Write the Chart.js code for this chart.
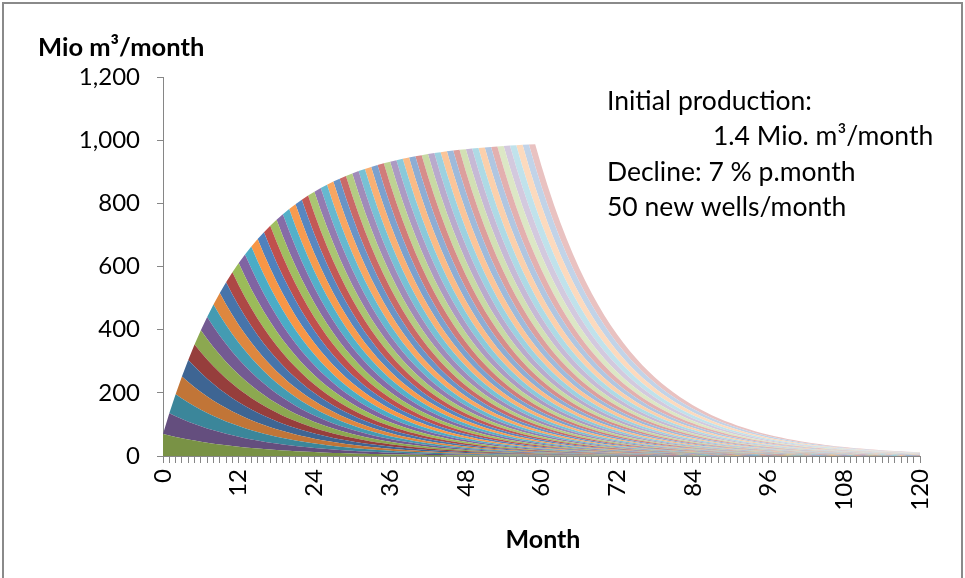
<!DOCTYPE html>
<html>
<head>
<meta charset="utf-8">
<script src="https://cdn.jsdelivr.net/npm/chart.js@4/dist/chart.umd.min.js"></script>
<style>
  html, body { margin: 0; padding: 0; background: #fff; }
  #wrap { width: 965px; height: 578px; position: relative; }
</style>
</head>
<body>
<div id="wrap"><canvas id="myChart" width="965" height="578"></canvas></div>
<script>
// production of one monthly cohort (50 wells x 1.4 Mio m3), by age in months
let cohortProfile = [
  70, 65.1, 60.54, 56.31, 52.36, 48.70, 45.29, 42.12, 39.17, 36.43,
  33.88, 31.51, 29.30, 27.25, 25.34, 23.57, 21.92, 20.39, 18.96, 17.63,
  16.40, 15.25, 14.18, 13.19, 12.27, 11.41, 10.61, 9.87, 9.18, 8.53,
  7.94, 7.38, 6.86, 6.38, 5.94, 5.52, 5.13, 4.78, 4.44, 4.13,
  3.84, 3.57, 3.32, 3.09, 2.87, 2.67, 2.49, 2.31, 2.15, 2.00,
  1.86, 1.73, 1.61, 1.50, 1.39, 1.29, 1.20, 1.12, 1.04, 0.97,
  0.90, 0.84, 0.78, 0.72, 0.67, 0.63, 0.58, 0.54, 0.50, 0.47,
  0.44, 0.40, 0.38, 0.35, 0.33, 0.30, 0.28, 0.26, 0.24, 0.23,
  0.21, 0.20, 0.18, 0.17, 0.16, 0.15, 0.14, 0.13, 0.12, 0.11,
  0.10, 0.095, 0.088, 0.082, 0.076, 0.071, 0.066, 0.061, 0.057, 0.053,
  0.049, 0.046, 0.043, 0.040, 0.037, 0.034, 0.032, 0.030, 0.028, 0.026,
  0.024, 0.022, 0.021, 0.019, 0.018, 0.017, 0.015, 0.014, 0.013, 0.012, 0.012
];
// month in which each cohort comes on stream
let cohortStarts = [
  0, 1, 2, 3, 4, 5, 6, 7, 8, 9, 10, 11, 12, 13, 14, 15, 16, 17, 18, 19,
  20, 21, 22, 23, 24, 25, 26, 27, 28, 29, 30, 31, 32, 33, 34, 35, 36, 37, 38, 39,
  40, 41, 42, 43, 44, 45, 46, 47, 48, 49, 50, 51, 52, 53, 54, 55, 56, 57, 58, 59
];
let lastMonth = 120;
let yTicks = [0, 200, 400, 600, 800, 1000, 1200];
let noteLines = ['Initial production:', '1.4 Mio. m\u00b3/month', 'Decline: 7 % p.month', '50 new wells/month'];

let months = [];
for (let m = 0; m <= lastMonth; m++) months.push(String(m));

let baseColors = ['#9BBB59', '#8064A2', '#4BACC6', '#F79646', '#4F81BD', '#C0504D'];
let shades = [-0.22, -0.1, 0, 0.05, 0.15, 0.25, 0.35, 0.45, 0.55, 0.65];

function shade(hex, f) {
  let r = parseInt(hex.substr(1, 2), 16), g = parseInt(hex.substr(3, 2), 16), b = parseInt(hex.substr(5, 2), 16);
  let t = f < 0 ? 0 : 255, p = Math.abs(f);
  r = Math.round(r + (t - r) * p); g = Math.round(g + (t - g) * p); b = Math.round(b + (t - b) * p);
  return 'rgb(' + r + ',' + g + ',' + b + ')';
}

let datasets = [];
for (let i = 0; i < cohortStarts.length; i++) {
  let start = cohortStarts[i];
  let vals = [];
  for (let m = 0; m <= lastMonth; m++) {
    vals.push(m < start ? 0 : cohortProfile[m - start]);
  }
  let col = shade(baseColors[i % 6], shades[Math.floor(i / 6)]);
  datasets.push({
    label: 'Cohort ' + start,
    data: vals,
    backgroundColor: col,
    borderColor: col,
    borderWidth: 0,
    pointRadius: 0,
    fill: i === 0 ? 'origin' : '-1',
    tension: 0
  });
}

let fontName = 'Lato, "Open Sans", sans-serif';

let textPlugin = {
  id: 'texts',
  afterDraw: function (chart) {
    let c = chart.ctx;
    c.save();
    c.fillStyle = '#000';
    c.textBaseline = 'alphabetic';
    c.textAlign = 'left';
    c.font = 'bold 25.5px ' + fontName;
    c.fillText('Mio m\u00b3/month', 38, 56);
    c.textAlign = 'center';
    c.font = 'bold 25px ' + fontName;
    c.fillText('Month', 543, 548);
    c.textAlign = 'left';
    c.font = '26.5px ' + fontName;
    c.fillText(noteLines[0], 607, 110);
    c.fillText(noteLines[1], 713, 145);
    c.fillText(noteLines[2], 607, 181);
    c.fillText(noteLines[3], 607, 216);
    c.strokeStyle = '#8a8a8a';
    c.lineWidth = 2;
    c.strokeRect(3, 3, 959, 590);
    c.restore();
  }
};

let ctx = document.getElementById('myChart').getContext('2d');
let chart = new Chart(ctx, {
  type: 'line',
  data: { labels: months, datasets: datasets },
  options: {
    responsive: false,
    animation: false,
    layout: { padding: { left: 0, top: 77, right: 45, bottom: 0 } },
    plugins: { legend: { display: false }, tooltip: { enabled: false } },
    elements: { line: { borderWidth: 0 } },
    scales: {
      x: {
        grid: { display: true, drawOnChartArea: false, drawTicks: true, tickLength: 7, color: '#868686' },
        border: { color: '#868686' },
        ticks: {
          autoSkip: false, maxRotation: 90, minRotation: 90, padding: 6, color: '#000',
          font: { family: fontName, size: 24 },
          callback: function (v, i) { return i % 12 === 0 ? months[i] : ''; }
        },
        afterFit: function (s) { s.height = 122; }
      },
      y: {
        stacked: true,
        min: 0, max: 1200,
        afterBuildTicks: function (s) { s.ticks = yTicks.map(function (v) { return { value: v }; }); },
        grid: { display: true, drawOnChartArea: false, drawTicks: true, tickLength: 6, color: '#868686' },
        border: { color: '#868686' },
        ticks: { padding: 17, color: '#000', font: { family: fontName, size: 24 } },
        afterFit: function (s) { s.width = 163; }
      }
    }
  },
  plugins: [textPlugin]
});
</script>
</body>
</html>
